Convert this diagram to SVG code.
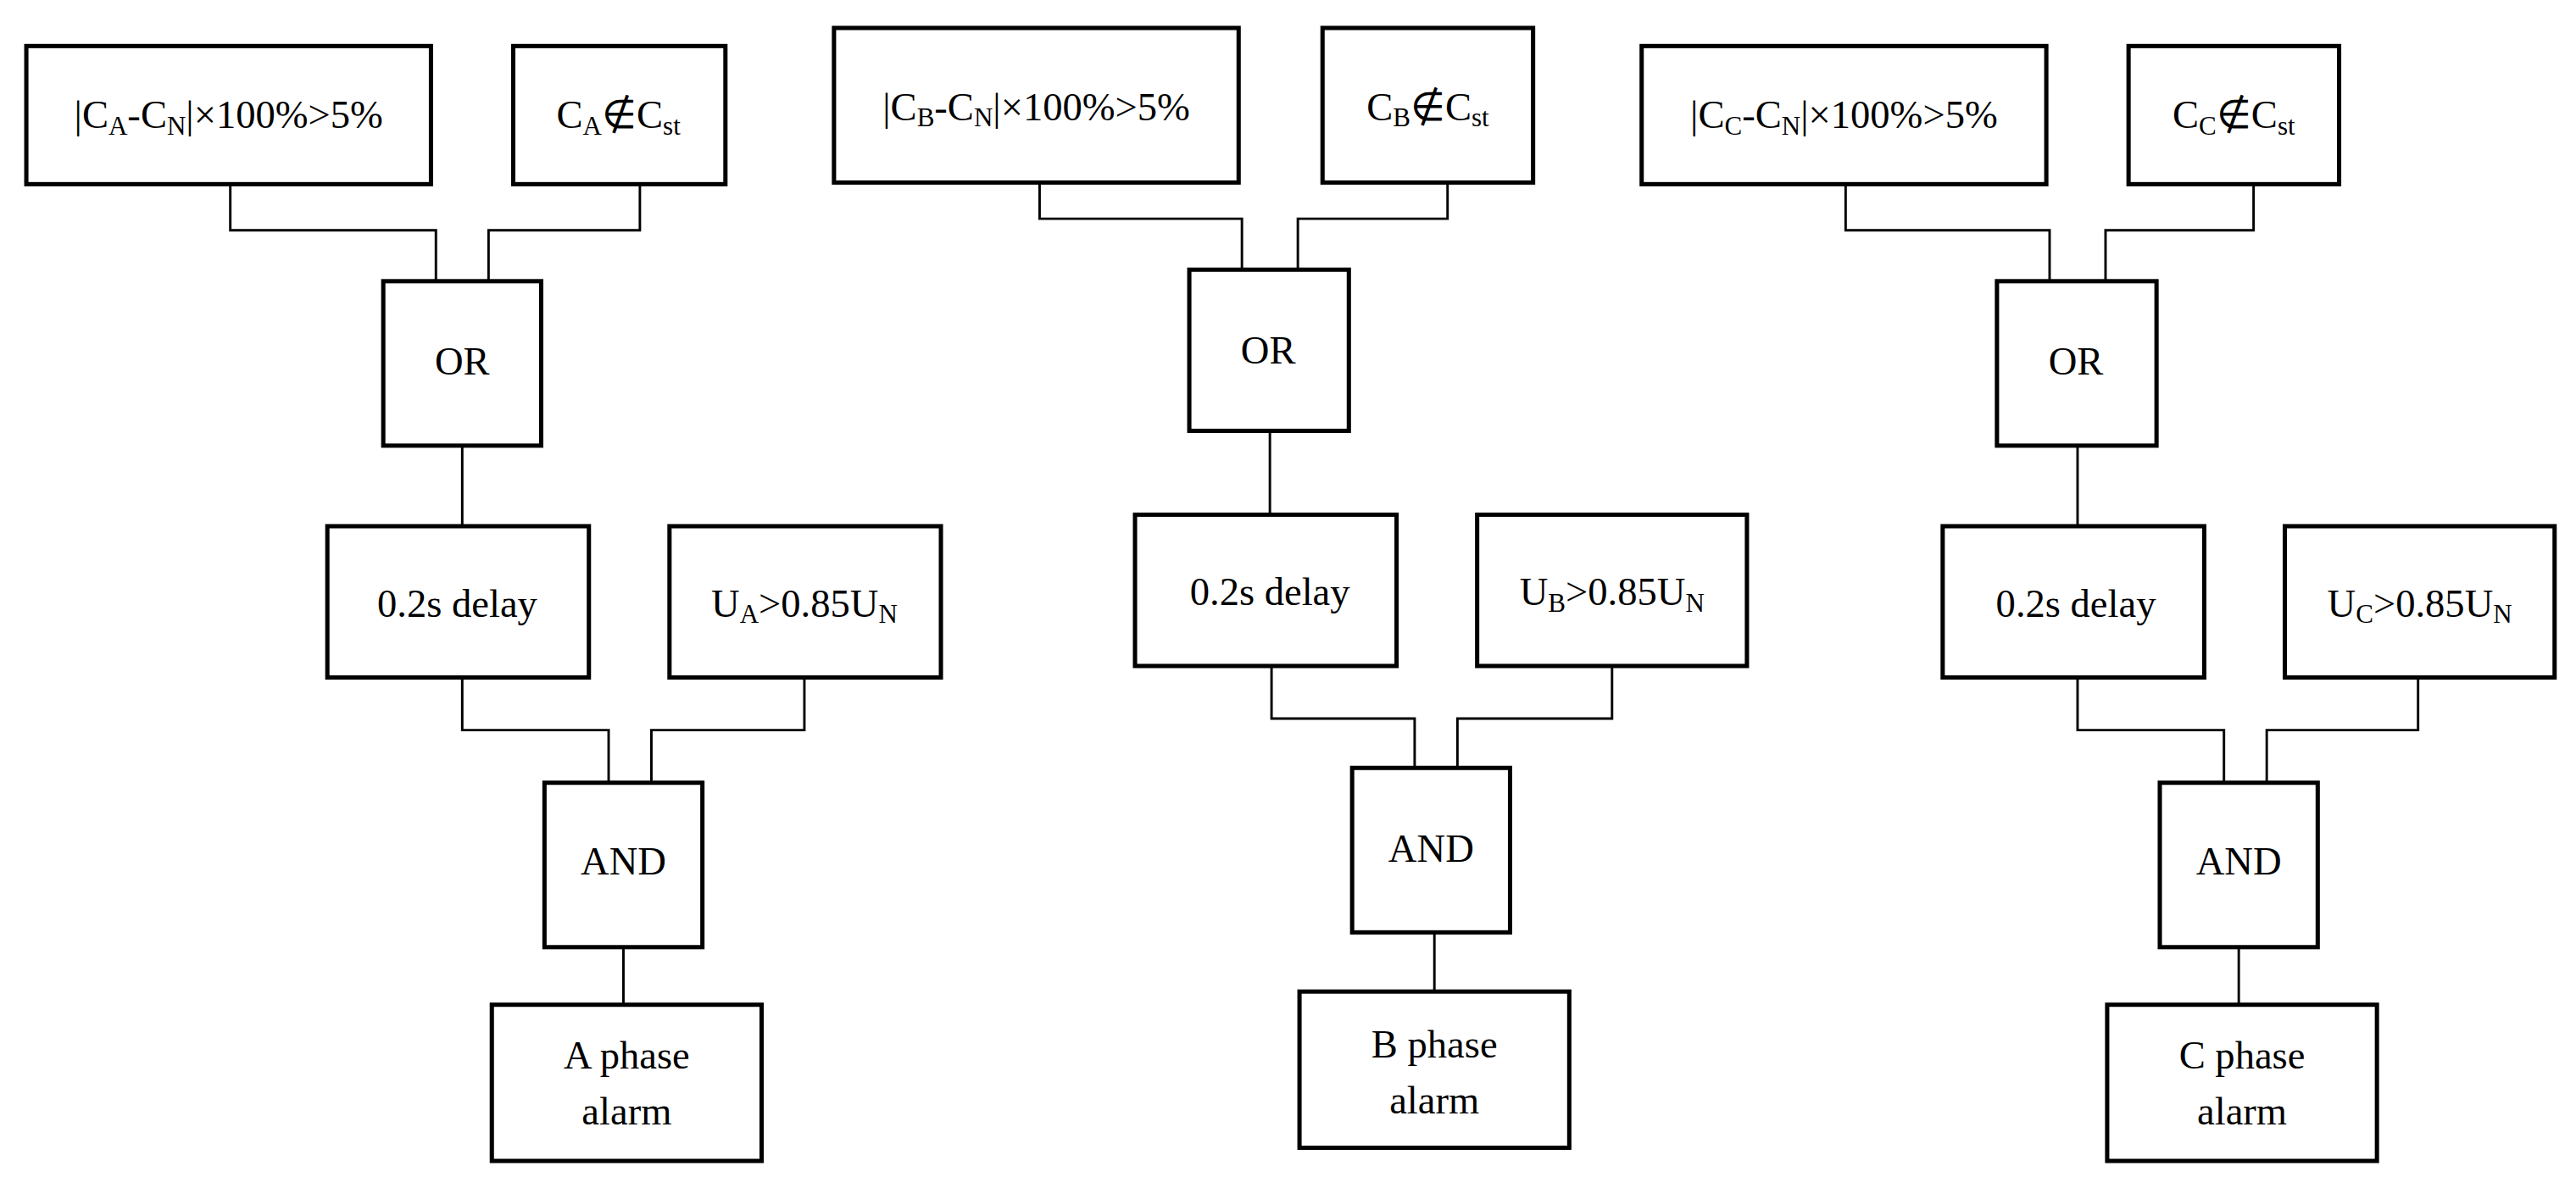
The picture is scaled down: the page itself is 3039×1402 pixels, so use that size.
<svg xmlns="http://www.w3.org/2000/svg" width="3039" height="1402" viewBox="0 0 3039 1402">
<style>
rect{fill:#fff;stroke:#000;stroke-width:2.6}
.c path{fill:none;stroke:#000;stroke-width:1.5}
text{font-family:"Liberation Serif","Times New Roman",serif;font-size:24px;text-anchor:middle;fill:#000}
.s{font-size:16px}
</style>
<rect x="0" y="0" width="3039" height="1402" style="fill:#fff;stroke:none"/>
<g transform="scale(1.9406)">
<g class="c">
<path d="M140 112V140H265V171M389 112V140H297V171M281 271V320M281 412V444H370V476M489 412V444H396V476M379 576V611"/>
<path d="M632 111V133H755V164M880 111V133H789V164M772 262V313M773 405V437H860V467M980 405V437H886V467M872 567V603"/>
<path d="M1122 112V140H1246V171M1370 112V140H1280V171M1263 271V320M1263 412V444H1352V476M1470 412V444H1378V476M1361 576V611"/>
</g>
<g id="a1"><rect x="16" y="28" width="246" height="84"/><text x="139" y="78">|C<tspan class="s" dy="4">A</tspan><tspan dy="-4">-C</tspan><tspan class="s" dy="4">N</tspan><tspan dy="-4">|×100%&gt;5%</tspan></text></g>
<g id="a2"><rect x="312" y="28" width="129" height="84"/><text x="376" y="78">C<tspan class="s" dy="4">A</tspan><tspan dy="-4">∉C</tspan><tspan class="s" dy="4">st</tspan></text></g>
<g id="a3"><rect x="233" y="171" width="96" height="100"/><text x="281" y="228">OR</text></g>
<g id="a4"><rect x="199" y="320" width="159" height="92"/><text x="278" y="375">0.2s delay</text></g>
<g id="a5"><rect x="407" y="320" width="165" height="92"/><text x="489" y="375">U<tspan class="s" dy="4">A</tspan><tspan dy="-4">&gt;0.85U</tspan><tspan class="s" dy="4">N</tspan></text></g>
<g id="a6"><rect x="331" y="476" width="96" height="100"/><text x="379" y="532">AND</text></g>
<g id="a7"><rect x="299" y="611" width="164" height="95"/><text x="381" y="650">A phase</text><text x="381" y="684">alarm</text></g>

<g id="b1"><rect x="507" y="17" width="246" height="94"/><text x="630" y="73">|C<tspan class="s" dy="4">B</tspan><tspan dy="-4">-C</tspan><tspan class="s" dy="4">N</tspan><tspan dy="-4">|×100%&gt;5%</tspan></text></g>
<g id="b2"><rect x="804" y="17" width="128" height="94"/><text x="868" y="73">C<tspan class="s" dy="4">B</tspan><tspan dy="-4">∉C</tspan><tspan class="s" dy="4">st</tspan></text></g>
<g id="b3"><rect x="723" y="164" width="97" height="98"/><text x="771" y="221">OR</text></g>
<g id="b4"><rect x="690" y="313" width="159" height="92"/><text x="772" y="368">0.2s delay</text></g>
<g id="b5"><rect x="898" y="313" width="164" height="92"/><text x="980" y="368">U<tspan class="s" dy="4">B</tspan><tspan dy="-4">&gt;0.85U</tspan><tspan class="s" dy="4">N</tspan></text></g>
<g id="b6"><rect x="822" y="467" width="96" height="100"/><text x="870" y="524">AND</text></g>
<g id="b7"><rect x="790" y="603" width="164" height="95"/><text x="872" y="643">B phase</text><text x="872" y="677">alarm</text></g>

<g id="c1"><rect x="998" y="28" width="246" height="84"/><text x="1121" y="78">|C<tspan class="s" dy="4">C</tspan><tspan dy="-4">-C</tspan><tspan class="s" dy="4">N</tspan><tspan dy="-4">|×100%&gt;5%</tspan></text></g>
<g id="c2"><rect x="1294" y="28" width="128" height="84"/><text x="1358" y="78">C<tspan class="s" dy="4">C</tspan><tspan dy="-4">∉C</tspan><tspan class="s" dy="4">st</tspan></text></g>
<g id="c3"><rect x="1214" y="171" width="97" height="100"/><text x="1262" y="228">OR</text></g>
<g id="c4"><rect x="1181" y="320" width="159" height="92"/><text x="1262" y="375">0.2s delay</text></g>
<g id="c5"><rect x="1389" y="320" width="164" height="92"/><text x="1471" y="375">U<tspan class="s" dy="4">C</tspan><tspan dy="-4">&gt;0.85U</tspan><tspan class="s" dy="4">N</tspan></text></g>
<g id="c6"><rect x="1313" y="476" width="96" height="100"/><text x="1361" y="532">AND</text></g>
<g id="c7"><rect x="1281" y="611" width="164" height="95"/><text x="1363" y="650">C phase</text><text x="1363" y="684">alarm</text></g>
</g>
</svg>
